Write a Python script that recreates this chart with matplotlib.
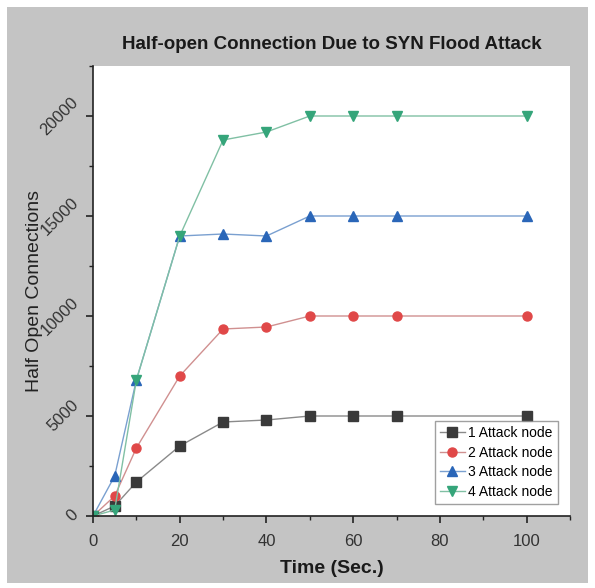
import numpy as np
import matplotlib.pyplot as plt
from matplotlib.patches import Rectangle

plt.rcParams['font.family'] = ['Liberation Sans', 'DejaVu Sans']

time_s = [0, 5, 10, 20, 30, 40, 50, 60, 70, 100]
node1 = [0, 500, 1700, 3500, 4700, 4800, 5000, 5000, 5000, 5000]
node2 = [0, 1000, 3400, 7000, 9350, 9450, 10000, 10000, 10000, 10000]
node3 = [0, 2000, 6800, 14000, 14100, 14000, 15000, 15000, 15000, 15000]
node4 = [0, 300, 6800, 14000, 18800, 19200, 20000, 20000, 20000, 20000]
labels = ["1 Attack node", "2 Attack node", "3 Attack node", "4 Attack node"]

fig = plt.figure(figsize=(5.95, 5.88), dpi=100, facecolor='white')
fig.patches.append(Rectangle((7 / 595, 5 / 588), 581 / 595, 576 / 588,
                             transform=fig.transFigure, facecolor='#c4c4c4',
                             edgecolor='none', zorder=-10))
ax = fig.add_axes([93 / 595, 1 - 516 / 588, 477 / 595, 450 / 588])
ax.set_facecolor('white')

styles = [
    ('s', '#3a3a3a', '#8a8a8a'),
    ('o', '#e04848', '#d09090'),
    ('^', '#2a66b8', '#7aa0d0'),
    ('v', '#35a57a', '#80c0a4'),
]
for ys, lab, (m, mc, lc) in zip([node1, node2, node3, node4], labels, styles):
    ax.plot(time_s, ys, color=lc, lw=1.0, marker=m, markersize=6.5,
            markerfacecolor=mc, markeredgecolor=mc, label=lab)

ax.set_xlim(0, 110)
ax.set_ylim(0, 22500)
ax.set_xticks([0, 20, 40, 60, 80, 100])
ax.set_xticks(np.arange(10, 111, 20), minor=True)
ax.set_yticks([0, 5000, 10000, 15000, 20000])
ax.set_yticks(np.arange(2500, 22501, 5000), minor=True)
for s in ['top', 'right']:
    ax.spines[s].set_visible(False)
for s in ['left', 'bottom']:
    ax.spines[s].set_color('#222222')
    ax.spines[s].set_linewidth(1.2)
ax.tick_params(which='major', length=5, width=1.2, colors='#222222', labelsize=12)
ax.tick_params(which='minor', length=3, width=1.0, colors='#222222')
ax.tick_params(axis='x', pad=8)
ax.tick_params(axis='both', labelcolor='#333333')
for t in ax.get_yticklabels():
    t.set_rotation(45)
    t.set_va('center')
    t.set_ha('right')

ax.set_title("Half-open Connection Due to SYN Flood Attack", fontsize=13.5,
             fontweight='bold', pad=12, color='#1a1a1a')
ax.set_xlabel("Time (Sec.)", fontsize=14, fontweight='bold', color='#1a1a1a',
              labelpad=8)
ax.set_ylabel("Half Open Connections", fontsize=14, color='#222222', labelpad=-4)

leg = ax.legend(loc='lower right', fontsize=10, frameon=True, fancybox=False,
                edgecolor='#888888', borderpad=0.35, labelspacing=0.4,
                handlelength=1.8, handletextpad=0.25, borderaxespad=0.9)
leg.get_frame().set_linewidth(1.0)

fig.savefig('out.png', dpi=100, facecolor=fig.get_facecolor())
